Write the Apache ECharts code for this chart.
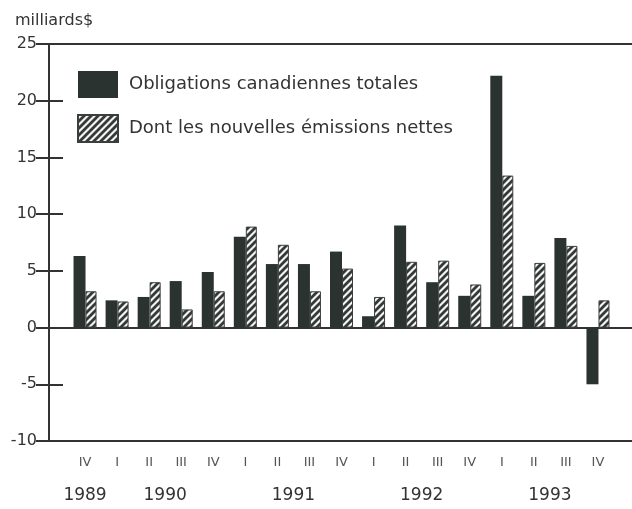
<!DOCTYPE html>
<html>
<head>
<meta charset="utf-8">
<script src="https://cdn.jsdelivr.net/npm/echarts@6/dist/echarts.min.js"></script>
<style>
  html, body { margin: 0; padding: 0; background: #fff; }
  #chart { width: 632px; height: 509px; }
</style>
</head>
<body>
<div id="chart"></div>
<script>
// trimestres 1989 IV -> 1993 IV
var quarters = ['IV', 'I', 'II', 'III', 'IV', 'I', 'II', 'III', 'IV', 'I', 'II', 'III', 'IV', 'I', 'II', 'III', 'IV'];
var years = [1989, 1990, 1990, 1990, 1990, 1991, 1991, 1991, 1991, 1992, 1992, 1992, 1992, 1993, 1993, 1993, 1993];

// milliards $
var totales = [6.3, 2.4, 2.7, 4.1, 4.9, 8.0, 5.6, 5.6, 6.7, 1.0, 9.0, 4.0, 2.8, 22.2, 2.8, 7.9, -5.0];
var nettes = [3.2, 2.3, 4.0, 1.6, 3.2, 8.9, 7.3, 3.2, 5.2, 2.7, 5.8, 5.9, 3.8, 13.4, 5.7, 7.2, 2.4];

var yTicks = [-10, -5, 0, 5, 10, 15, 20, 25];

// position centrale de chaque année sous ses trimestres
var yearCenters = {};
years.forEach(function (y, i) {
    if (!yearCenters[y]) yearCenters[y] = [i, i];
    yearCenters[y][1] = i;
});

// motif hachuré
var pat = document.createElement('canvas');
pat.width = 7;
pat.height = 7;
var ctx = pat.getContext('2d');
ctx.fillStyle = '#f4f4f2';
ctx.fillRect(0, 0, 7, 7);
ctx.strokeStyle = '#333a38';
ctx.lineWidth = 2.8;
ctx.beginPath();
ctx.moveTo(-3.5, 3.5); ctx.lineTo(3.5, -3.5);
ctx.moveTo(0, 7); ctx.lineTo(7, 0);
ctx.moveTo(3.5, 10.5); ctx.lineTo(10.5, 3.5);
ctx.stroke();

var dark = '#2b3331';
var lineCol = '#333';
var font = 'DejaVu Sans';

var myChart = echarts.init(document.getElementById('chart'));

var option = {
    backgroundColor: '#fff',
    animation: false,
    title: {
        text: 'milliards$',
        left: 10,
        top: 8,
        textStyle: { fontFamily: font, fontSize: 16, fontWeight: 'normal', color: '#333' }
    },
    legend: {
        orient: 'vertical',
        left: 77,
        top: 71,
        padding: 0,
        icon: 'rect',
        itemWidth: 40,
        itemHeight: 27,
        itemGap: 16,
        textStyle: { fontFamily: font, fontSize: 18, color: '#333', padding: [0, 0, 0, 6] },
        data: ['Obligations canadiennes totales', 'Dont les nouvelles émissions nettes']
    },
    grid: [
        { left: 49, right: 0, top: 44, bottom: 68 },   // cadre
        { left: 69, right: 18, top: 44, bottom: 68 },  // barres
        { left: 49, right: 0, top: 44, bottom: 68 }    // ligne du zéro
    ],
    xAxis: [
        {
            gridIndex: 0, type: 'value', min: 0, max: 1, position: 'bottom',
            axisLine: { onZero: false, lineStyle: { color: lineCol, width: 2 } },
            axisTick: { show: false }, axisLabel: { show: false }, splitLine: { show: false }
        },
        {
            gridIndex: 0, type: 'value', min: 0, max: 1, position: 'top',
            axisLine: { onZero: false, lineStyle: { color: lineCol, width: 2 } },
            axisTick: { show: false }, axisLabel: { show: false }, splitLine: { show: false }
        },
        {
            gridIndex: 2, type: 'value', min: 0, max: 1, position: 'bottom',
            axisLine: { onZero: true, lineStyle: { color: lineCol, width: 2 } },
            axisTick: { show: false }, axisLabel: { show: false }, splitLine: { show: false }
        },
        {
            gridIndex: 1, type: 'category', data: quarters, position: 'bottom',
            axisLine: { show: false, onZero: false },
            axisTick: { show: false },
            axisLabel: { interval: 0, margin: 15, fontFamily: font, fontSize: 13, color: '#555' }
        },
        {
            gridIndex: 1, type: 'value', min: -0.5, max: quarters.length - 0.5, interval: 0.5,
            position: 'bottom',
            axisLine: { show: false, onZero: false },
            axisTick: { show: false },
            splitLine: { show: false },
            axisLabel: {
                margin: 46, fontFamily: font, fontSize: 17, color: '#333',
                formatter: function (v) {
                    for (var y in yearCenters) {
                        if ((yearCenters[y][0] + yearCenters[y][1]) / 2 === v) return y;
                    }
                    return '';
                }
            }
        }
    ],
    yAxis: [
        {
            gridIndex: 0, type: 'value', min: yTicks[0], max: yTicks[yTicks.length - 1], interval: 5,
            position: 'left',
            axisLine: { show: true, lineStyle: { color: lineCol, width: 2 } },
            axisTick: { show: true, inside: true, length: 14, lineStyle: { color: lineCol, width: 2 } },
            axisLabel: { margin: 12, fontFamily: font, fontSize: 16, color: '#333' },
            splitLine: { show: false }
        },
        {
            gridIndex: 0, type: 'value', min: yTicks[0], max: yTicks[yTicks.length - 1], interval: 5,
            position: 'right',
            axisLine: { show: false },
            axisTick: { show: true, inside: true, length: 13, lineStyle: { color: lineCol, width: 2 } },
            axisLabel: { show: false },
            splitLine: { show: false }
        },
        {
            gridIndex: 1, type: 'value', min: yTicks[0], max: yTicks[yTicks.length - 1], interval: 5,
            show: false
        },
        {
            gridIndex: 2, type: 'value', min: yTicks[0], max: yTicks[yTicks.length - 1], interval: 5,
            show: false
        }
    ],
    series: [
        {
            name: 'Obligations canadiennes totales',
            type: 'bar',
            xAxisIndex: 3,
            yAxisIndex: 2,
            barWidth: 12,
            barGap: '0%',
            itemStyle: { color: dark },
            data: totales
        },
        {
            name: 'Dont les nouvelles émissions nettes',
            type: 'bar',
            xAxisIndex: 3,
            yAxisIndex: 2,
            barWidth: 11,
            itemStyle: {
                color: { image: pat, repeat: 'repeat' },
                borderColor: '#3a3f3e',
                borderWidth: 1
            },
            data: nettes
        }
    ]
};

myChart.setOption(option);
</script>
</body>
</html>
